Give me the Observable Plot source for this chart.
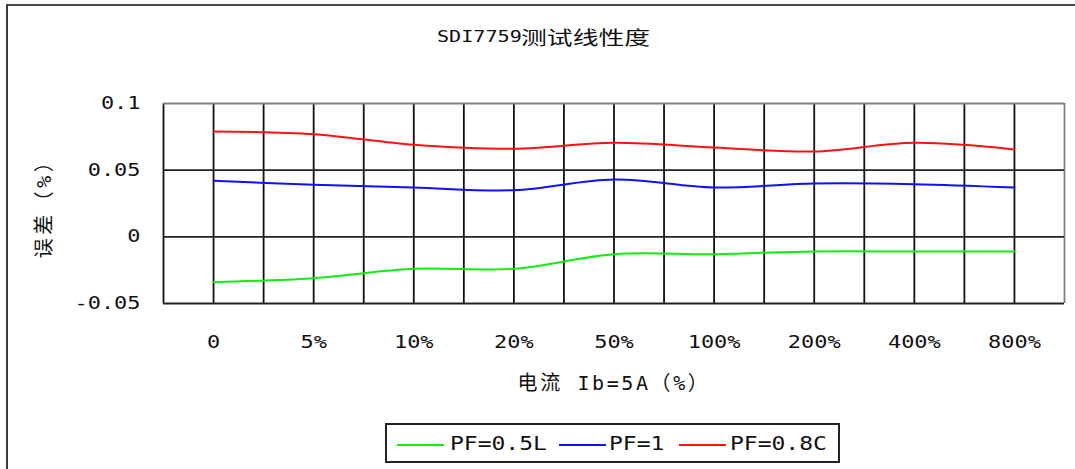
<!DOCTYPE html>
<html><head><meta charset="utf-8">
<script src="https://cdn.jsdelivr.net/npm/d3@7"></script>
<script src="https://cdn.jsdelivr.net/npm/@observablehq/plot@0.6"></script>
<style>
body{margin:0;background:#fff;}
#wrap{position:relative;width:1075px;height:469px;overflow:hidden;background:#fff;}
#frame{position:absolute;left:6px;top:4px;width:2000px;height:1000px;border-left:2px solid #3a3a3a;border-top:2px solid #4a4a4a;}
#chart{position:absolute;left:0;top:0;}
#title{position:absolute;left:0;top:0;}
#title span{position:absolute;display:inline-block;white-space:nowrap;transform-origin:0 50%;color:#111;}
#title .lat{left:437px;top:26px;font-family:"DejaVu Sans Mono",monospace;font-size:16.5px;line-height:22px;transform:scaleX(1.22);}
#title .cjk{left:521px;top:25px;font-family:"Noto Sans CJK SC",sans-serif;font-size:19px;line-height:24px;transform:scaleX(1.36);}
#legend{position:absolute;left:385px;top:423px;width:451px;height:36px;border:2px solid #222;background:#fff;}
#legend .sw{position:absolute;top:19px;height:2px;width:47px;}
#legend .lt{position:absolute;top:6px;display:inline-block;transform-origin:0 50%;transform:scaleX(1.21);font-family:"DejaVu Sans Mono",monospace;font-size:19px;line-height:24px;color:#111;white-space:nowrap;}
svg g[aria-label="x-axis label"] text{font-size:20px;letter-spacing:2.6px;}
svg g[aria-label="y-axis label"] text{font-size:20px;letter-spacing:3.5px;}
</style>
</head><body>
<div id="wrap">
  <div id="frame"></div>
  <div id="chart"></div>
  <div id="title"></div>
  <div id="legend"></div>
</div>
<script>
// ---- data ----
const categories = ["0", "5%", "10%", "20%", "50%", "100%", "200%", "400%", "800%"];
const pf05L = [-0.034, -0.031, -0.024, -0.024, -0.013, -0.013, -0.011, -0.011, -0.011];
const pf1   = [0.042, 0.039, 0.037, 0.035, 0.043, 0.037, 0.040, 0.0395, 0.037];
const pf08C = [0.079, 0.077, 0.069, 0.066, 0.0705, 0.067, 0.064, 0.0705, 0.0655];
const seriesNames = ["PF=0.5L", "PF=1", "PF=0.8C"];
const seriesColors = ["#10ee10", "#1010ff", "#ff1010"];
const yTicks = [-0.05, 0, 0.05, 0.1];
const titleLatin = "SDI7759";
const titleCjk = "测试线性度";
const xLabel = "电流 Ib=5A（%）";
const yLabel = "误差（%）";

const seriesValues = [pf05L, pf1, pf08C];
const rows = [];
seriesValues.forEach((vals, s) => vals.forEach((v, i) => rows.push({series: seriesNames[s], i, v})));
const gridX = d3.range(-0.5, categories.length, 0.5);
const xMax = categories.length - 0.5;
const yMax = d3.max(yTicks);

const chart = Plot.plot({
  width: 1075,
  height: 400,
  marginLeft: 163,
  marginRight: 11,
  marginTop: 103,
  marginBottom: 97,
  style: {fontFamily: "'DejaVu Sans Mono','Noto Sans CJK SC',monospace", fontSize: "17px", color: "#111", background: "transparent"},
  x: {
    domain: [-0.5, xMax],
    ticks: d3.range(categories.length),
    tickFormat: i => categories[i],
    tickSize: 0,
    tickPadding: 32,
    label: xLabel,
    labelAnchor: "center",
    labelOffset: 86,
    labelArrow: false
  },
  y: {
    domain: [d3.min(yTicks), yMax],
    ticks: yTicks,
    tickFormat: d => String(+d.toFixed(2)),
    tickSize: 0,
    tickPadding: 23,
    label: yLabel,
    labelAnchor: "center",
    labelOffset: 127,
    labelArrow: false
  },
  color: {domain: seriesNames, range: seriesColors},
  marks: [
    Plot.ruleX(gridX, {stroke: d => d === xMax ? "#808080" : "#111", strokeWidth: 1.8}),
    Plot.ruleY(yTicks, {stroke: d => d === yMax ? "#808080" : "#222", strokeWidth: 1.8}),
    Plot.line(rows, {x: "i", y: "v", z: "series", stroke: "series", strokeWidth: 2, curve: "catmull-rom"})
  ]
});
document.getElementById("chart").appendChild(chart);

// widen glyphs like the original (stretched bitmap font)
chart.querySelectorAll('g[aria-label="x-axis tick label"] text, g[aria-label="y-axis tick label"] text').forEach(el => {
  el.setAttribute("textLength", el.textContent.length * 13.2);
  el.setAttribute("lengthAdjust", "spacingAndGlyphs");
});

// title
const t = document.getElementById("title");
t.innerHTML = `<span class="lat">${titleLatin}</span><span class="cjk">${titleCjk}</span>`;

// legend
const legendPos = [[10, 63], [172, 222], [292, 343]];
const lg = document.getElementById("legend");
seriesNames.forEach((name, k) => {
  const sw = document.createElement("div");
  sw.className = "sw";
  sw.style.left = legendPos[k][0] + "px";
  sw.style.background = seriesColors[k];
  lg.appendChild(sw);
  const tx = document.createElement("div");
  tx.className = "lt";
  tx.style.left = legendPos[k][1] + "px";
  tx.textContent = name;
  lg.appendChild(tx);
});
</script>
</body></html>
